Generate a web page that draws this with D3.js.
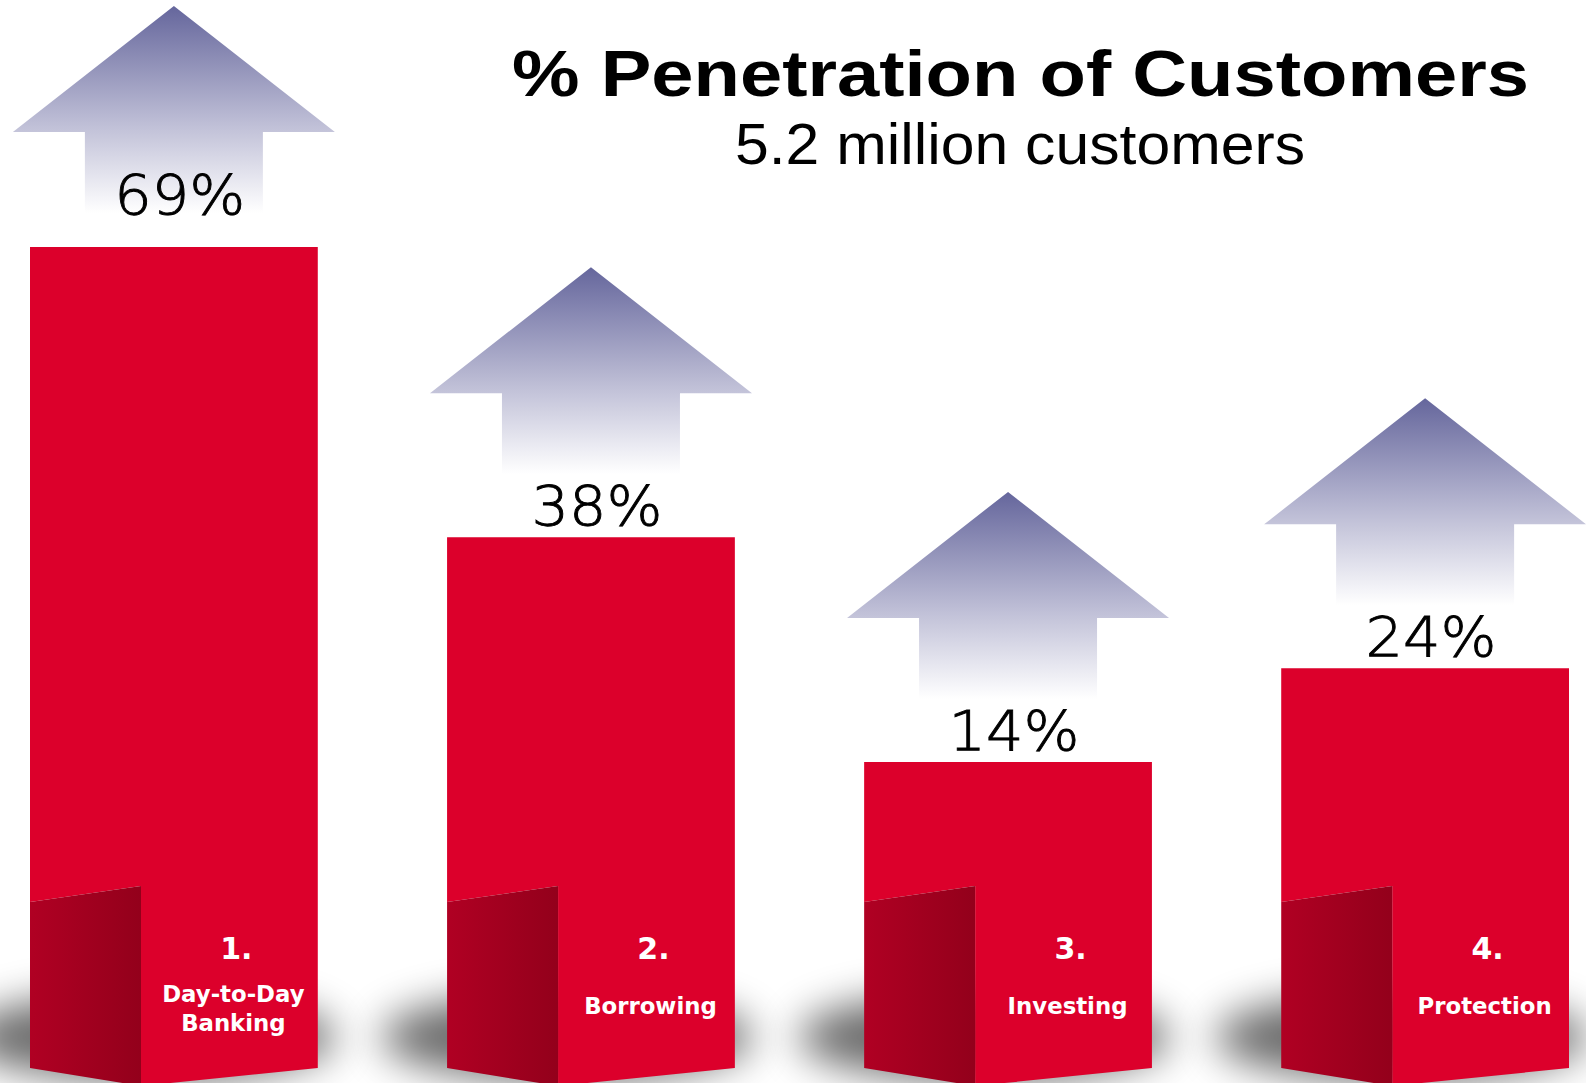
<!DOCTYPE html>
<html>
<head>
<meta charset="utf-8">
<script src="https://cdn.jsdelivr.net/npm/d3@7/dist/d3.min.js"></script>
<style>
  html, body { margin: 0; padding: 0; background: #ffffff; overflow: hidden; }
  svg { display: block; }
</style>
</head>
<body>
<svg id="chart" width="1586" height="1083"></svg>
<script>
// Product penetration across the customer base
const categories = ["Day-to-Day\nBanking", "Borrowing", "Investing", "Protection"];
const penetration = [69, 38, 14, 24];
const rankLabels = ["1.", "2.", "3.", "4."];
const titleText = "% Penetration of Customers";
const subtitleText = "5.2 million customers";

const svg = d3.select("#chart");
const defs = svg.append("defs");

// Fading arrow fill
const arrowGrad = defs.append("linearGradient")
  .attr("id", "arrowFill").attr("x1", 0).attr("y1", 0).attr("x2", 0).attr("y2", 1);
arrowGrad.append("stop").attr("offset", 0).attr("stop-color", "#65669c");
arrowGrad.append("stop").attr("offset", 0.6).attr("stop-color", "#c3c3d9");
arrowGrad.append("stop").attr("offset", 1).attr("stop-color", "#ffffff");

// Shaded side of each folded base
const sideGrad = defs.append("linearGradient")
  .attr("id", "sideFill").attr("x1", 0).attr("y1", 0).attr("x2", 1).attr("y2", 0);
sideGrad.append("stop").attr("offset", 0).attr("stop-color", "#b00023");
sideGrad.append("stop").attr("offset", 1).attr("stop-color", "#93001b");

// Soft floor shadow
defs.append("filter").attr("id", "floorBlur")
  .attr("x", "-50%").attr("y", "-150%").attr("width", "200%").attr("height", "400%")
  .append("feGaussianBlur").attr("stdDeviation", 20);

const x = d3.scaleBand()
  .domain(categories)
  .range([30, 1569])
  .paddingInner(0.31)
  .paddingOuter(0);

const y = d3.scaleLinear()
  .domain([0, 69])
  .range([893, 247]);

const data = categories.map((c, i) => ({ cat: c, value: penetration[i], rank: rankLabels[i] }));

// Base geometry
const foldRight = 886, foldLeft = 902, baseRight = 1068, baseFold = 1086, sideW = 111;
const arrowW = 322, arrowHead = 126, shaftW = 178, arrowH = 207, arrowLift = 270;

// Shadows
svg.append("g").selectAll("ellipse").data(data).join("ellipse")
  .attr("cx", d => x(d.cat) + x.bandwidth() / 2 - 24)
  .attr("cy", 1037)
  .attr("rx", x.bandwidth() / 2 + 42)
  .attr("ry", 44)
  .attr("fill", "#000")
  .attr("opacity", 0.58)
  .attr("filter", "url(#floorBlur)");

// Arrows
const arrowTop = d => Math.max(6, y(d.value) - arrowLift);
const cxOf = d => x(d.cat) + x.bandwidth() / 2;
svg.append("g").selectAll("path").data(data).join("path")
  .attr("d", d => {
    const cx = cxOf(d), t = arrowTop(d);
    return d3.line()([
      [cx, t],
      [cx + arrowW / 2, t + arrowHead],
      [cx + shaftW / 2, t + arrowHead],
      [cx + shaftW / 2, t + arrowH],
      [cx - shaftW / 2, t + arrowH],
      [cx - shaftW / 2, t + arrowHead],
      [cx - arrowW / 2, t + arrowHead]
    ]) + "Z";
  })
  .attr("fill", "url(#arrowFill)");

// Bars: front face with a folded base
const bars = svg.append("g").selectAll("g").data(data).join("g");
bars.append("path")
  .attr("d", d => {
    const x0 = x(d.cat), x1 = x0 + x.bandwidth(), xf = x0 + sideW;
    return d3.line()([
      [x0, y(d.value)], [x1, y(d.value)], [x1, baseRight],
      [xf, baseFold], [xf, foldRight], [x0, foldLeft]
    ]) + "Z";
  })
  .attr("fill", "#dc002b");
bars.append("path")
  .attr("d", d => {
    const x0 = x(d.cat), xf = x0 + sideW;
    return d3.line()([
      [x0, foldLeft], [xf, foldRight], [xf, baseFold], [x0, baseRight]
    ]) + "Z";
  })
  .attr("fill", "url(#sideFill)");

// Rank numbers and category names on the front face
const faceCx = d => x(d.cat) + sideW + (x.bandwidth() - sideW) / 2 + 4;
bars.append("text")
  .attr("x", d => faceCx(d) + 3)
  .attr("y", 959)
  .attr("text-anchor", "middle")
  .attr("font-family", "'DejaVu Sans', Verdana, sans-serif")
  .attr("font-weight", "bold")
  .attr("font-size", 30)
  .attr("fill", "#ffffff")
  .text(d => d.rank);

bars.each(function (d) {
  const lines = d.cat.split("\n");
  const first = 1014 - (lines.length - 1) * 12.5;
  d3.select(this).selectAll("text.cat").data(lines).join("text")
    .attr("class", "cat")
    .attr("x", faceCx(d))
    .attr("y", (l, j) => first + j * 29)
    .attr("text-anchor", "middle")
    .attr("font-family", "'DejaVu Sans', Verdana, sans-serif")
    .attr("font-weight", "bold")
    .attr("font-size", 22.8)
    .attr("fill", "#ffffff")
    .text(l => l);
});

// Value labels
svg.append("g").selectAll("text").data(data).join("text")
  .attr("x", d => cxOf(d) + 6)
  .attr("y", d => (y(d.value) - arrowLift < 6) ? arrowTop(d) + arrowH + 1 : y(d.value) - 12)
  .attr("text-anchor", "middle")
  .attr("font-family", "'DejaVu Sans', sans-serif")
  .attr("font-weight", 200)
  .attr("font-size", 56)
  .attr("fill", "#000000")
  .attr("stroke", "#000000")
  .attr("stroke-width", 0.9)
  .attr("textLength", 131)
  .attr("lengthAdjust", "spacingAndGlyphs")
  .text(d => d.value + "%");

// Titles
svg.append("text")
  .attr("x", 512).attr("y", 96)
  .attr("font-family", "'Liberation Sans', Arial, sans-serif")
  .attr("font-weight", "bold")
  .attr("font-size", 65)
  .attr("fill", "#000000")
  .attr("textLength", 1017)
  .attr("lengthAdjust", "spacingAndGlyphs")
  .text(titleText);

svg.append("text")
  .attr("x", 735).attr("y", 164)
  .attr("font-family", "'Liberation Sans', Arial, sans-serif")
  .attr("font-size", 57)
  .attr("fill", "#000000")
  .attr("textLength", 570)
  .attr("lengthAdjust", "spacingAndGlyphs")
  .text(subtitleText);
</script>
</body>
</html>
